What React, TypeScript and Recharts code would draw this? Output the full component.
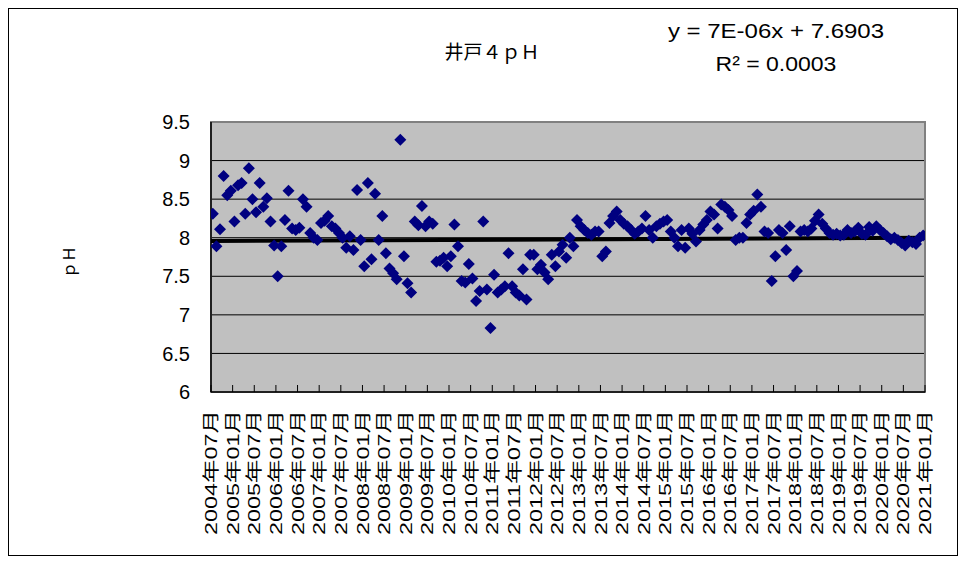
import { CartesianGrid, ReferenceArea, ReferenceLine, Scatter, ScatterChart, XAxis, YAxis } from 'recharts'

// monthly pH readings for well no.4, grouped by year (2004 starts in July)
const ph2004 = [8.31, 7.89, 8.11, 8.8, 8.55, 8.61]
const ph2005 = [8.21, 8.68, 8.71, 8.31, 8.9, 8.5, 8.33, 8.71, 8.4, 8.51, 8.21, 7.9]
const ph2006 = [7.5, 7.89, 8.23, 8.61, 8.12, 8.1, 8.13, 8.5, 8.4, 8.06, 8.0, 7.97]
const ph2007 = [8.19, 8.22, 8.28, 8.15, 8.12, 8.06, 8.0, 7.87, 8.02, 7.84, 8.62, 7.97]
const ph2008 = [7.63, 8.71, 7.72, 8.57, 7.97, 8.28, 7.8, 7.6, 7.54, 7.46, 9.27, 7.76]
const ph2009 = [7.41, 7.29, 8.21, 8.16, 8.41, 8.15, 8.21, 8.18, 7.69, 7.7, 7.74, 7.63]
const ph2010 = [7.76, 8.17, 7.89, 7.44, 7.42, 7.66, 7.47, 7.18, 7.31, 8.21, 7.33, 6.83]
const ph2011 = [7.52, 7.29, 7.33, 7.37, 7.8, 7.37, 7.29, 7.25, 7.59, 7.2, 7.78, 7.78]
const ph2012 = [7.59, 7.65, 7.55, 7.46, 7.78, 7.63, 7.82, 7.91, 7.74, 8.0, 7.89, 8.23]
const ph2013 = [8.15, 8.1, 8.06, 8.04, 8.08, 8.08, 7.76, 7.82, 8.19, 8.28, 8.34, 8.23]
const ph2014 = [8.18, 8.15, 8.1, 8.05, 8.08, 8.12, 8.28, 8.1, 8.0, 8.15, 8.18, 8.21]
const ph2015 = [8.23, 8.08, 8.0, 7.89, 8.1, 7.87, 8.12, 8.05, 7.95, 8.1, 8.17, 8.23]
const ph2016 = [8.34, 8.3, 8.12, 8.43, 8.4, 8.36, 8.28, 7.97, 8.0, 8.0, 8.19, 8.3]
const ph2017 = [8.35, 8.56, 8.4, 8.08, 8.06, 7.44, 7.76, 8.1, 8.06, 7.84, 8.15, 7.5]
const ph2018 = [7.57, 8.08, 8.1, 8.08, 8.12, 8.22, 8.3, 8.18, 8.12, 8.06, 8.04, 8.05]
const ph2019 = [8.03, 8.04, 8.1, 8.06, 8.08, 8.13, 8.05, 8.04, 8.14, 8.09, 8.15, 8.1]
const ph2020 = [8.06, 8.02, 7.98, 8.0, 7.97, 7.93, 7.9, 7.96, 7.94, 7.92, 8.0, 8.03]
const ph2021 = [8.04]

const tickLabels = [
  '2004年07月', '2005年01月', '2005年07月', '2006年01月', '2006年07月', '2007年01月',
  '2007年07月', '2008年01月', '2008年07月', '2009年01月', '2009年07月', '2010年01月',
  '2010年07月', '2011年01月', '2011年07月', '2012年01月', '2012年07月', '2013年01月',
  '2013年07月', '2014年01月', '2014年07月', '2015年01月', '2015年07月', '2016年01月',
  '2016年07月', '2017年01月', '2017年07月', '2018年01月', '2018年07月', '2019年01月',
  '2019年07月', '2020年01月', '2020年07月', '2021年01月'
]
const yTicks = [6, 6.5, 7, 7.5, 8, 8.5, 9, 9.5]

// Excel linear trend, x = serial date
const trendSlope = 7e-6
const trendIntercept = 7.6903

const years: [number, number, number[]][] = [
  [2004, 7, ph2004], [2005, 1, ph2005], [2006, 1, ph2006], [2007, 1, ph2007],
  [2008, 1, ph2008], [2009, 1, ph2009], [2010, 1, ph2010], [2011, 1, ph2011],
  [2012, 1, ph2012], [2013, 1, ph2013], [2014, 1, ph2014], [2015, 1, ph2015],
  [2016, 1, ph2016], [2017, 1, ph2017], [2018, 1, ph2018], [2019, 1, ph2019],
  [2020, 1, ph2020], [2021, 1, ph2021]
]

// x = months since 2004-07, samples sit mid-month
const data = years.flatMap(([year, start, values]) =>
  values.map((ph, i) => ({ x: (year - 2004) * 12 + start - 7 + i + 0.5, ph }))
)

const lastMonth = (tickLabels.length - 1) * 6
const xTicks = tickLabels.map((_, i) => i * 6)

const serialOf = (m: number) =>
  (Date.UTC(2004, 6 + m, 1) - Date.UTC(1899, 11, 30)) / 86400000
const trendAt = (m: number) => trendSlope * serialOf(m) + trendIntercept

const FONT = "'Liberation Sans', Arial, 'Noto Sans CJK JP', sans-serif"

function Diamond(props: any) {
  const { cx, cy } = props
  const r = 6
  return (
    <polygon
      points={`${cx},${cy - r} ${cx + r},${cy} ${cx},${cy + r} ${cx - r},${cy}`}
      fill="#000080"
    />
  )
}

function MonthTick(props: any) {
  const { x, y, payload } = props
  const label = tickLabels[Math.round(payload.value / 6)]
  return (
    <g>
      <line x1={x} x2={x} y1={y - 18} y2={y - 25} stroke="#000" />
      <text
        transform={`translate(${x},${y}) rotate(-90)`}
        textAnchor="end"
        dy="0.36em"
        fontSize={17}
        fontFamily={FONT}
        fill="#000"
        textLength={125}
        lengthAdjust="spacingAndGlyphs"
      >
        {label}
      </text>
    </g>
  )
}

const overlay = (left: number, top: number, extra: React.CSSProperties = {}): React.CSSProperties => ({
  position: 'absolute',
  left,
  top,
  transform: 'translate(-50%, -50%)',
  whiteSpace: 'nowrap',
  lineHeight: 1,
  color: '#000',
  ...extra
})

export default function App() {
  return (
    <div style={{ position: 'relative', width: 948, height: 546, border: '1px solid #000', background: '#fff' }}>
      <ScatterChart width={948} height={546} margin={{ top: 113, right: 32, left: 142, bottom: 13 }}>
        <CartesianGrid vertical={false} fill="#c0c0c0" stroke="#000" fillOpacity={1} />
        <XAxis
          type="number"
          dataKey="x"
          domain={[0, lastMonth]}
          ticks={xTicks}
          allowDataOverflow
          interval={0}
          height={150}
          tickLine={false}
          tickSize={0}
          tickMargin={18}
          axisLine={{ stroke: '#000', strokeWidth: 1.5 }}
          tick={<MonthTick />}
        />
        <YAxis
          type="number"
          dataKey="ph"
          domain={[6, 9.5]}
          ticks={yTicks}
          width={60}
          tickLine={false}
          tickSize={0}
          tickMargin={21}
          axisLine={{ stroke: '#000', strokeWidth: 1.5 }}
          tick={{ fill: '#000', fontSize: 20, fontFamily: FONT }}
        />
        <ReferenceArea x1={0} x2={lastMonth} y1={6} y2={9.5} fill="none" stroke="#808080" strokeWidth={2} />
        <Scatter data={data} shape={<Diamond />} isAnimationActive={false} />
        <ReferenceLine
          segment={[
            { x: 0, y: trendAt(0) },
            { x: lastMonth, y: trendAt(lastMonth) }
          ]}
          stroke="#000"
          strokeWidth={4}
        />
      </ScatterChart>
      <div style={overlay(483, 41, { fontSize: 19, fontFamily: "'Noto Sans CJK JP', sans-serif" })}>井戸４ｐＨ</div>
      <div style={overlay(767, 22, { fontSize: 20, fontFamily: FONT, transform: 'translate(-50%, -50%) scaleX(1.2)' })}>
        y = 7E-06x + 7.6903
      </div>
      <div style={overlay(767, 55, { fontSize: 20, fontFamily: FONT, transform: 'translate(-50%, -50%) scaleX(1.15)' })}>
        R² = 0.0003
      </div>
      <div style={overlay(59, 253, { fontSize: 16, fontFamily: "'Noto Sans CJK JP', sans-serif", transform: 'translate(-50%, -50%) rotate(-90deg)' })}>
        ｐＨ
      </div>
    </div>
  )
}
